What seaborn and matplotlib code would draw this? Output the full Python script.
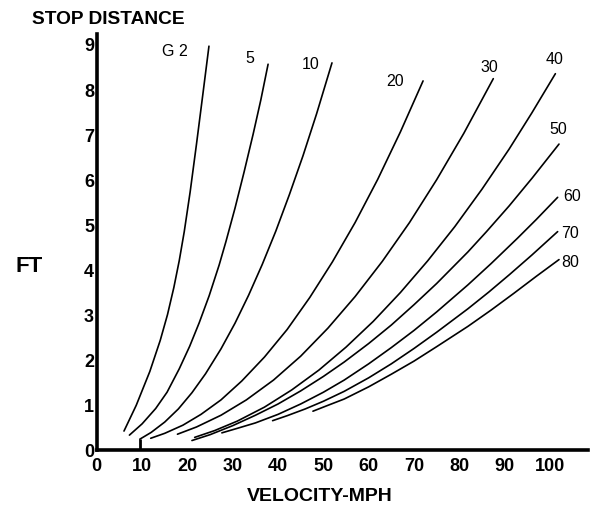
import matplotlib
matplotlib.use("Agg")
import matplotlib.pyplot as plt
import seaborn as sns
import pandas as pd

# Stopping distance (ft) versus velocity (mph) for each deceleration level G
g_levels = ["G 2", "5", "10", "20", "30", "40", "50", "60", "70", "80"]

v_g2 = [6.0, 8.7, 11.7, 14.0, 15.6, 17.0, 18.2, 19.3, 20.6, 22.0, 23.4, 24.75]
d_g2 = [0.42, 0.99, 1.74, 2.43, 3.00, 3.60, 4.20, 4.84, 5.72, 6.78, 7.88, 8.95]

v_g5 = [7.2, 10.0, 13.0, 15.5, 18.2, 20.5, 22.6, 24.8, 27.0, 28.5, 30.5, 32.5, 34.5, 36.2, 37.8]
d_g5 = [0.33, 0.58, 0.92, 1.28, 1.80, 2.30, 2.82, 3.42, 4.10, 4.62, 5.36, 6.16, 7.00, 7.76, 8.55]

v_g10 = [9.5, 12.0, 15.0, 18.0, 21.0, 24.0, 27.4, 30.5, 33.5, 36.5, 39.5, 42.5, 45.5, 48.5, 51.9]
d_g10 = [0.24, 0.39, 0.62, 0.91, 1.27, 1.69, 2.24, 2.81, 3.43, 4.11, 4.85, 5.66, 6.52, 7.45, 8.58]

v_g20 = [11.9, 15.0, 19.0, 23.0, 27.4, 32.0, 37.0, 42.0, 47.0, 52.0, 57.0, 62.0, 67.0, 72.0]
d_g20 = [0.26, 0.37, 0.55, 0.79, 1.11, 1.53, 2.06, 2.67, 3.38, 4.17, 5.04, 6.00, 7.05, 8.18]

v_g30 = [17.8, 22.0, 27.4, 33.0, 39.0, 45.0, 51.0, 57.0, 63.0, 69.0, 75.0, 81.0, 87.5]
d_g30 = [0.35, 0.51, 0.77, 1.11, 1.55, 2.08, 2.70, 3.40, 4.18, 5.04, 5.99, 7.02, 8.23]

v_g40 = [21.6, 26.0, 31.0, 37.0, 43.0, 49.0, 55.0, 61.0, 67.0, 73.0, 79.0, 85.0, 91.0, 96.0, 101.2]
d_g40 = [0.28, 0.43, 0.64, 0.95, 1.33, 1.77, 2.28, 2.85, 3.49, 4.19, 4.95, 5.78, 6.67, 7.47, 8.34]

v_g50 = [21.0, 25.0, 30.0, 35.0, 40.0, 45.0, 50.0, 54.6, 60.0, 65.0, 70.0, 75.0, 81.9, 86.0, 91.0, 96.1, 102.0]
d_g50 = [0.21, 0.34, 0.54, 0.77, 1.02, 1.31, 1.63, 1.95, 2.36, 2.77, 3.22, 3.69, 4.39, 4.84, 5.41, 6.03, 6.78]

v_g60 = [27.6, 31.0, 35.0, 40.0, 45.0, 50.0, 54.6, 60.0, 65.0, 70.0, 75.0, 81.9, 87.0, 92.8, 97.0, 101.7]
d_g60 = [0.38, 0.48, 0.60, 0.79, 1.02, 1.28, 1.55, 1.91, 2.27, 2.65, 3.06, 3.66, 4.13, 4.69, 5.11, 5.60]

v_g70 = [38.8, 42.0, 46.0, 50.0, 54.6, 60.0, 65.0, 70.0, 75.0, 81.9, 86.5, 91.1, 96.0, 101.7]
d_g70 = [0.65, 0.76, 0.91, 1.08, 1.30, 1.60, 1.91, 2.25, 2.61, 3.13, 3.50, 3.89, 4.32, 4.84]

v_g80 = [47.7, 51.0, 54.6, 60.0, 65.0, 70.0, 75.0, 81.9, 87.0, 92.0, 97.0, 102.0]
d_g80 = [0.86, 0.99, 1.13, 1.40, 1.68, 1.97, 2.29, 2.74, 3.10, 3.47, 3.85, 4.22]

# label anchor for each curve (velocity, distance)
label_v = [17.3, 33.8, 47.1, 65.8, 86.6, 101.1, 101.8, 104.9, 104.5, 104.5]
label_d = [8.85, 8.71, 8.56, 8.18, 8.51, 8.67, 7.12, 5.63, 4.81, 4.17]

x_ticks = [0, 10, 20, 30, 40, 50, 60, 70, 80, 90, 100]
y_ticks = [0, 1, 2, 3, 4, 5, 6, 7, 8, 9]

series_v = [v_g2, v_g5, v_g10, v_g20, v_g30, v_g40, v_g50, v_g60, v_g70, v_g80]
series_d = [d_g2, d_g5, d_g10, d_g20, d_g30, d_g40, d_g50, d_g60, d_g70, d_g80]

frames = []
for name, vs, ds in zip(g_levels, series_v, series_d):
    frames.append(pd.DataFrame({"velocity": vs, "distance": ds, "G": name}))
df = pd.concat(frames, ignore_index=True)

sns.set_style("white")
plt.rcParams["font.family"] = ["Liberation Sans", "DejaVu Sans"]
plt.rcParams["text.color"] = "black"

W, H = 592, 510
fig = plt.figure(figsize=(W / 100, H / 100), dpi=100)
ax = fig.add_axes([96.8 / W, (H - 451) / H, (588 - 96.8) / W, (451 - 35) / H])

sns.lineplot(data=df, x="velocity", y="distance", hue="G", units="G",
             estimator=None, sort=False, palette={g: "black" for g in g_levels},
             linewidth=1.2, legend=False, ax=ax)

# vertical stub at 10 mph where the G 10 curve begins
ax.plot([v_g10[0], v_g10[0]], [0, d_g10[0]], color="black", lw=2.0,
        solid_capstyle="butt")

ax.set_xlim(0, 108.4)
ax.set_ylim(0, 9.22)
ax.set_xticks(x_ticks)
ax.set_yticks(y_ticks)
ax.set_xticklabels([str(t) for t in x_ticks])
ax.set_yticklabels([str(t) for t in y_ticks])
ax.set_xlabel("")
ax.set_ylabel("")

for side in ("top", "right"):
    ax.spines[side].set_visible(False)
for side in ("left", "bottom"):
    ax.spines[side].set_linewidth(2.6)
    ax.spines[side].set_color("black")

ax.tick_params(axis="x", direction="in", length=5, width=1.3, pad=5,
               labelsize=13, colors="black")
ax.tick_params(axis="y", direction="in", length=8, width=1.3, pad=2,
               labelsize=13, colors="black")
for lab in ax.get_xticklabels() + ax.get_yticklabels():
    lab.set_fontweight("bold")

for name, lv, ld in zip(g_levels, label_v, label_d):
    ax.text(lv, ld, name, fontsize=11.5, ha="center", va="center",
            color="black", clip_on=False)

fig.text(32 / W, 1 - 19 / H, "STOP DISTANCE", fontsize=13.8, fontweight="bold",
         ha="left", va="center", color="black")
fig.text(29 / W, 1 - 266 / H, "FT", fontsize=16, fontweight="bold",
         ha="center", va="center", color="black")
fig.text(320 / W, 1 - 497 / H, "VELOCITY-MPH", fontsize=14, fontweight="bold",
         ha="center", va="center", color="black")

fig.savefig("out.png", dpi=100, facecolor="white")
